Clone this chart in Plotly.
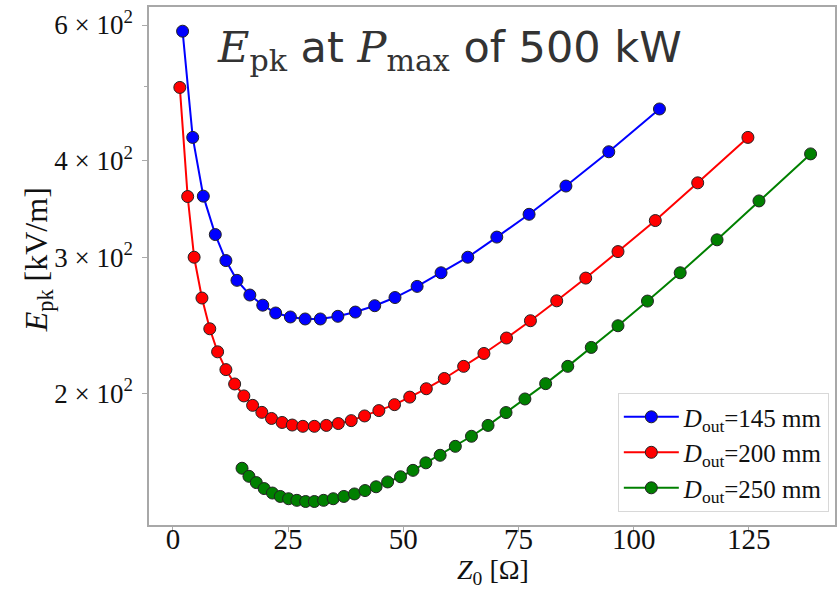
import plotly.graph_objects as go

# Data
z0_145 = [2.1, 4.3, 6.6, 9.2, 11.5, 13.9, 16.7, 19.5, 22.3, 25.5, 28.7, 32.0, 35.8, 39.6,
          43.8, 48.2, 53.0, 58.2, 64.0, 70.3, 77.3, 85.3, 94.6, 105.6]
epk_145 = [589, 429, 360, 321, 297, 280, 268, 260, 254, 251, 249.5, 249.5, 251.5, 254.7,
           259.6, 266, 275, 286.4, 300, 318.6, 341, 371, 411, 467]

z0_200 = [1.5, 3.2, 4.6, 6.3, 8.0, 9.7, 11.5, 13.4, 15.4, 17.3, 19.3, 21.4, 23.7, 25.9,
          28.2, 30.7, 33.3, 35.9, 38.7, 41.6, 44.7, 48.1, 51.4, 55.0, 58.9, 63.1, 67.5,
          72.4, 77.6, 83.3, 89.6, 96.6, 104.7, 113.9, 124.8]
epk_200 = [498, 359.6, 300, 265.6, 242.3, 226.2, 214.5, 205.5, 198.3, 192.8, 188.8, 185.4,
           183.2, 181.8, 181.1, 181.1, 181.6, 182.6, 184.2, 186.8, 189.8, 193.2, 197.6,
           202.6, 208.9, 216.6, 225.1, 235.7, 248.2, 263.4, 281.9, 305.1, 334.7, 374.6, 429]

z0_250 = [15.0, 16.5, 18.1, 19.8, 21.6, 23.3, 25.1, 26.9, 28.8, 30.7, 32.7, 34.8, 37.1,
          39.4, 41.7, 44.1, 46.6, 49.4, 52.1, 54.9, 58.0, 61.3, 64.8, 68.4, 72.3, 76.4,
          80.9, 85.7, 90.8, 96.6, 103.0, 110.1, 118.1, 127.2, 138.4]
epk_250 = [159.8, 156.0, 153.1, 150.4, 148.4, 146.9, 145.9, 145.2, 144.7, 144.7, 145.2,
           145.9, 146.9, 148.0, 149.5, 151.2, 153.4, 155.8, 158.8, 162.4, 166.1, 170.6,
           175.8, 181.6, 188.7, 196.5, 205.7, 216.6, 229.2, 244.5, 263.2, 286.4, 316.0,
           354.9, 408.4]

series_names = ["<i>D</i><sub>out</sub>=145 mm", "<i>D</i><sub>out</sub>=200 mm",
                "<i>D</i><sub>out</sub>=250 mm"]
series_colors = ["#0000ff", "#ff0000", "#008000"]

x_ticks = [0, 25, 50, 75, 100, 125]
y_tickvals = [200, 300, 400, 600]
y_ticktext = ["2 × 10<sup>2</sup>", "3 × 10<sup>2</sup>", "4 × 10<sup>2</sup>",
              "6 × 10<sup>2</sup>"]

SERIF = "Liberation Serif, DejaVu Serif, serif"
MSERIF = "DejaVu Serif"
SANS = "DejaVu Sans, sans-serif"

fig = go.Figure()
for xs, ys, name, col in zip([z0_145, z0_200, z0_250], [epk_145, epk_200, epk_250],
                             series_names, series_colors):
    fig.add_trace(go.Scatter(
        x=xs, y=ys, mode="lines+markers", name=name,
        line=dict(color=col, width=2),
        marker=dict(color=col, size=12, line=dict(color="#222222", width=1)),
    ))

fig.update_layout(
    width=837, height=593,
    margin=dict(l=149, r=0, t=7, b=68),
    paper_bgcolor="white", plot_bgcolor="white",
    font=dict(family=SERIF, color="black"),
    showlegend=True,
    legend=dict(
        x=0.991, y=0.025, xanchor="right", yanchor="bottom",
        bgcolor="rgba(255,255,255,0.85)", bordercolor="#d8d8d8", borderwidth=1,
        font=dict(family=SERIF, size=25, color="#111111"),
        itemwidth=55, tracegroupgap=0,
    ),
    xaxis=dict(
        range=[-5.19, 143.7], tickvals=x_ticks, ticks="outside", ticklen=5,
        tickcolor="#aaaaaa", showgrid=False, zeroline=False, showline=True,
        linecolor="#a8a8a8", linewidth=1.5, mirror=True,
        tickfont=dict(family=SERIF, size=29, color="#111111"),
        ticklabelstandoff=-18,
    ),
    yaxis=dict(
        type="log", range=[2.130, 2.8015], tickvals=y_tickvals, ticktext=y_ticktext,
        ticks="outside", ticklen=5, tickcolor="#aaaaaa", showgrid=False, zeroline=False,
        showline=True, linecolor="#a8a8a8", linewidth=1.5, mirror=True,
        tickfont=dict(family=SERIF, size=27, color="#111111"),
        ticklabelstandoff=4,
        minor=dict(tickvals=[500], ticks="outside", ticklen=3, tickcolor="#aaaaaa"),
    ),
    annotations=[
        dict(
            text=(f"<span style='font-family:{MSERIF}'><i>E</i><sub>pk</sub></span>"
                  f" at <span style='font-family:{MSERIF}'><i>P</i><sub>max</sub></span>"
                  " of 500 kW"),
            xref="paper", yref="paper", x=0.096, y=0.917, xanchor="left", yanchor="middle",
            showarrow=False, font=dict(family=SANS, size=43, color="#333333"),
        ),
        dict(
            text="<i>Z</i><sub>0</sub> [Ω]", xref="paper", yref="paper",
            x=0.5015, y=-0.089, xanchor="center", yanchor="middle", showarrow=False,
            font=dict(family=SERIF, size=28, color="#111111"),
        ),
        dict(
            text="<i>E</i><sub>pk</sub> [kV/m]", xref="paper", yref="paper",
            x=-0.161, y=0.512, xanchor="center", yanchor="middle", showarrow=False,
            textangle=-90, font=dict(family=SERIF, size=32, color="#111111"),
        ),
    ],
)

fig.write_html("out.html", config={"displayModeBar": False},
               post_script="document.body.style.margin='0px';")
